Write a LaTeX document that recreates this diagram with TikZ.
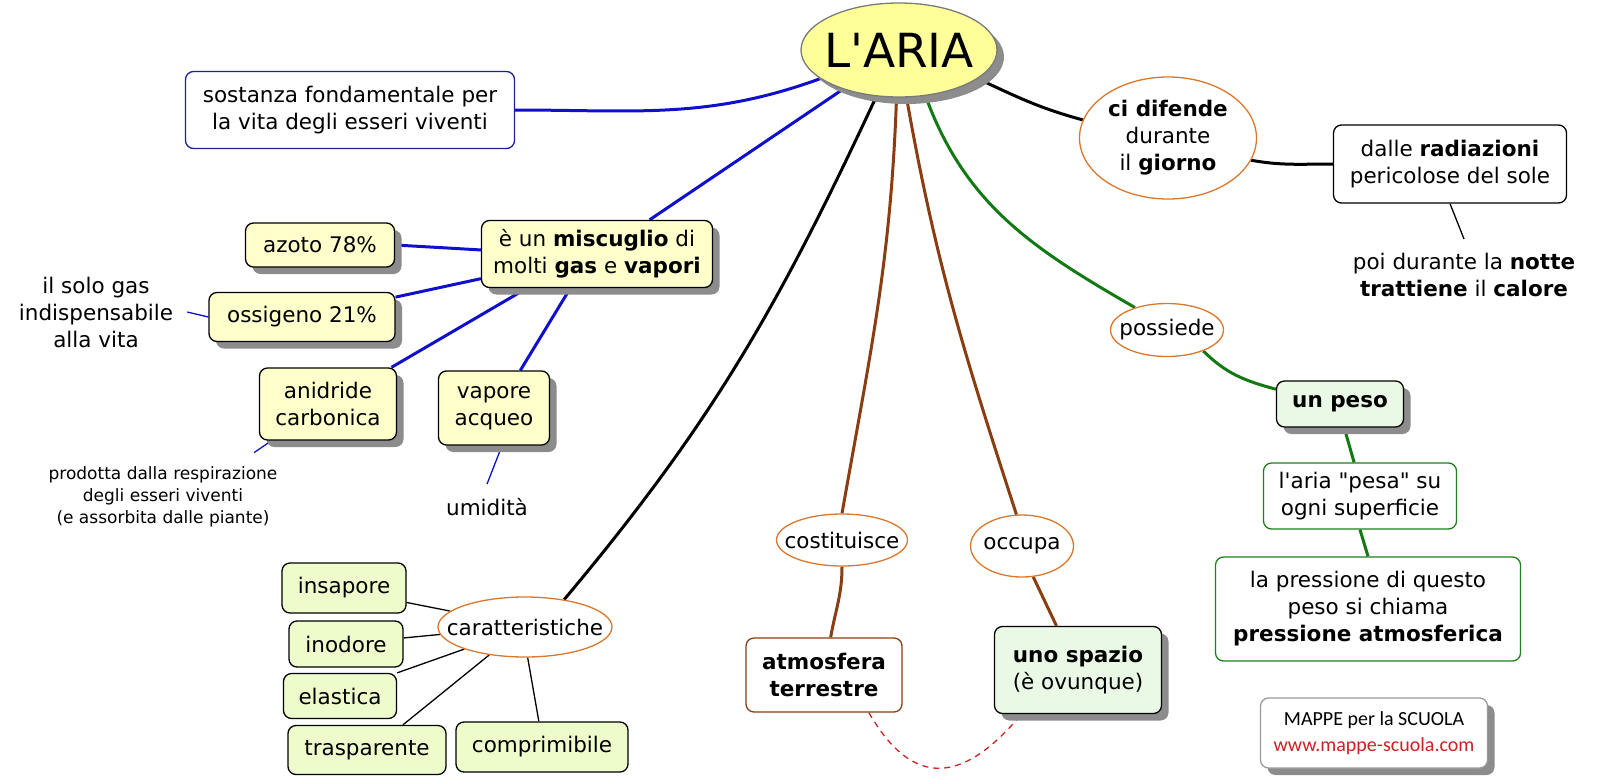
\documentclass[tikz,border=0pt]{standalone}
\usepackage{fontspec}
\setmainfont{DejaVu Sans}[Ligatures=TeXOff]
\newfontfamily\mappefont{Carlito}[Ligatures=TeXOff]
\usetikzlibrary{shapes.geometric,shadows,backgrounds}

\definecolor{linkblue}{HTML}{1010CC}
\definecolor{linkbrown}{HTML}{8A3D10}
\definecolor{linkgreen}{HTML}{137A13}
\definecolor{sostblue}{HTML}{1F1F99}
\definecolor{titlegray}{HTML}{7A7A7A}
\definecolor{titleyellow}{HTML}{FFFF99}
\definecolor{boxyellow}{HTML}{FFFFCC}
\definecolor{boxlime}{HTML}{EEFCCB}
\definecolor{boxmint}{HTML}{EAF9E6}
\definecolor{boxgreen}{HTML}{1E7E1E}
\definecolor{verborange}{HTML}{D9782D}
\definecolor{shadowgray}{HTML}{8C8C8C}
\definecolor{mappegray}{HTML}{9A9A9A}
\definecolor{urlred}{HTML}{CC2222}
\definecolor{dashred}{HTML}{CC2222}

\tikzset{
  every node/.style={font=\fontsize{21.5}{27}\selectfont},
  boxshadow/.style={drop shadow={shadow xshift=7pt, shadow yshift=-7pt,
      fill=shadowgray, opacity=1}},
  concept/.style={draw, rounded corners=8pt, line width=1.3pt, align=center,
    inner sep=0pt, fill=white},
  yellowbox/.style={concept, fill=boxyellow, boxshadow},
  limebox/.style={concept, fill=boxlime},
  mintbox/.style={concept, fill=boxmint, boxshadow},
  verb/.style={ellipse, draw=verborange, line width=1.3pt, fill=white,
    inner sep=0pt},
  note/.style={align=center, inner sep=14pt},
  every label/.style={align=center, inner sep=0pt},
  link/.style={line width=3pt},
  twig/.style={line width=1.3pt},
}

\begin{document}
\begin{tikzpicture}[x=1pt, y=-1pt]
  \useasboundingbox (0,0) rectangle (1600,782);

  % centro
  \node [verb, draw=titlegray, fill=titleyellow, boxshadow, minimum width=196pt,
    minimum height=94pt,
    label={[font=\fontsize{47}{50}\selectfont]center:L'ARIA}] (aria) at (899,50) {};

  % ramo blu
  \node [concept, draw=sostblue, minimum width=329pt, minimum height=77pt]
    (sost) at (350,110) {sostanza fondamentale per\\la vita degli esseri viventi};
  \node [yellowbox, minimum width=231pt, minimum height=67pt] (misc) at (597,254)
    {è un \textbf{miscuglio} di\\molti \textbf{gas} e \textbf{vapori}};
  \node [yellowbox, minimum width=149pt, minimum height=44pt] (azoto) at (320,245) {azoto 78\%};
  \node [yellowbox, minimum width=186pt, minimum height=49pt] (ossig) at (302,317) {ossigeno 21\%};
  \node [yellowbox, minimum width=137pt, minimum height=72pt] (anid) at (328,404) {anidride\\carbonica};
  \node [yellowbox, minimum width=111pt, minimum height=74pt] (vap) at (494,408) {vapore\\acqueo};
  \node [note] (solo) at (96,312) {il solo gas\\indispensabile\\alla vita};
  \node [note, font=\fontsize{17}{22}\selectfont] (prod) at (163,497)
    {prodotta dalla respirazione\\degli esseri viventi\\(e assorbita dalle piante)};
  \node [note] (umid) at (487,507) {umidità};

  % caratteristiche
  \node [verb, minimum width=174pt, minimum height=60pt,
    label=center:caratteristiche] (carat) at (525,627) {};
  \node [limebox, minimum width=124pt, minimum height=50pt] (insap) at (344,588) {insapore};
  \node [limebox, minimum width=114pt, minimum height=46pt] (inod) at (346,644) {inodore};
  \node [limebox, minimum width=113pt, minimum height=45pt] (elast) at (340,696) {elastica};
  \node [limebox, minimum width=158pt, minimum height=49pt] (trasp) at (367,750) {trasparente};
  \node [limebox, minimum width=172pt, minimum height=50pt] (compr) at (542,747) {comprimibile};

  % ramo marrone
  \node [verb, minimum width=131pt, minimum height=52pt,
    label=center:costituisce] (costit) at (842,540) {};
  \node [verb, minimum width=103pt, minimum height=62pt,
    label=center:occupa] (occ) at (1022,546) {};
  \node [concept, draw=linkbrown, minimum width=156pt, minimum height=74pt]
    (atmos) at (824,675) {\textbf{atmosfera}\\\textbf{terrestre}};
  \node [mintbox, minimum width=167pt, minimum height=87pt] (spazio) at (1078,670)
    {\textbf{uno spazio}\\(è ovunque)};

  % ramo a destra
  \node [verb, minimum width=177pt, minimum height=122pt,
    label={center:\textbf{ci difende}\\durante\\il \textbf{giorno}}] (difende) at (1168,138) {};
  \node [concept, minimum width=233pt, minimum height=78pt] (dalle) at (1450,164)
    {dalle \textbf{radiazioni}\\pericolose del sole};
  \node [note] (notte) at (1464,275)
    {poi durante la \textbf{notte}\\\textbf{trattiene} il \textbf{calore}};
  \node [verb, minimum width=113pt, minimum height=53pt,
    label=center:possiede] (poss) at (1167,330) {};
  \node [mintbox, minimum width=127pt, minimum height=46pt] (peso) at (1340,404) {\textbf{un peso}};
  \node [concept, draw=boxgreen, minimum width=193pt, minimum height=66pt]
    (pesa) at (1360,496) {l'aria "pesa" su\\ogni superficie};
  \node [concept, draw=boxgreen, minimum width=305pt, minimum height=104pt]
    (press) at (1368,609) {la pressione di questo\\peso si chiama\\\textbf{pressione atmosferica}};

  \node [concept, draw=mappegray, boxshadow, minimum width=227pt, minimum height=70pt,
    font=\mappefont\fontsize{20}{26}\selectfont] (mappe) at (1374,733)
    {MAPPE per la SCUOLA\\\textcolor{urlred}{www.mappe-scuola.com}};

  \begin{scope}[on background layer]
    \draw [link, linkblue] (sost.east) to[out=0, in=200] (aria.200);
    \draw [link, linkblue] (aria.215) -- (misc.33);
    \draw [link, linkblue] (azoto.east) -- (misc.178);
    \draw [link, linkblue] (ossig.12) -- (misc.192);
    \draw [link, linkblue] (anid.30) -- (misc.206);
    \draw [link, linkblue] (vap.55) -- (misc.232);
    \draw [twig, linkblue] (solo.east) -- (ossig.west);
    \draw [twig, linkblue] (anid.213) -- (prod.26);
    \draw [twig, linkblue] (vap.282) -- (umid.north);

    \draw [link] (aria.244) to[out=245, in=50] (carat.35);
    \draw [twig] (insap.-13) -- (carat.168);
    \draw [twig] (inod.6) -- (carat.185);
    \draw [twig] (elast.north east) -- (carat.200);
    \draw [twig] (trasp.35) -- (carat.218);
    \draw [twig] (compr.97) -- (carat.275);

    \draw [link, linkbrown] (aria.267) to[out=268, in=80] (costit.north);
    \draw [link, linkbrown] (aria.279) to[out=280, in=108] (occ.100);
    \draw [link, linkbrown] (costit.south) to[out=-90, in=80] (atmos.80);
    \draw [link, linkbrown] (occ.290) -- (spazio.116);
    \draw [twig, dashred, dash pattern=on 6pt off 5pt] (atmos.320)
      to[out=-60, in=-130, looseness=1.5] (spazio.218);

    \draw [link, linkgreen] (aria.300) to[out=290, in=150] (poss.145);
    \draw [link, linkgreen] (poss.330) to[out=-45, in=165] (peso.167);
    \draw [link, linkgreen] (peso.280) -- (pesa.100);
    \draw [link, linkgreen] (pesa.south) -- (press.north);

    \draw [link] (aria.340) to[out=-25, in=165] (difende.168);
    \draw [link] (difende.345) to[out=-10, in=180] (dalle.west);
    \draw [twig] (dalle.south) -- (notte.north);
  \end{scope}
\end{tikzpicture}
\end{document}
